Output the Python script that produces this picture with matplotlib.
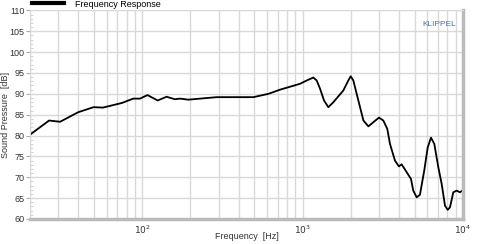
import matplotlib
matplotlib.use("Agg")
import matplotlib.pyplot as plt
from matplotlib.ticker import LogLocator, MultipleLocator, FixedLocator, NullFormatter
from matplotlib.lines import Line2D

plt.rcParams["font.family"] = ["Liberation Sans", "DejaVu Sans"]

# frequency response
freq = [20, 26.3, 30.8, 40, 49.8, 57, 74.7, 88, 97, 108, 125, 142, 160, 172, 194,
        292, 379, 494, 613, 725, 964, 1062, 1167, 1225, 1285, 1361, 1448, 1557,
        1796, 1929, 1996, 2073, 2228, 2396, 2573, 2764, 2997, 3188, 3375, 3508,
        3767, 3990, 4147, 4393, 4742, 4900, 5145, 5393, 5736, 6026, 6318, 6627,
        7020, 7368, 7727, 8030, 8300, 8706, 9140, 9580, 9915]
spl = [80.2, 83.6, 83.3, 85.6, 86.8, 86.7, 87.8, 88.85, 88.85, 89.7, 88.4, 89.3,
       88.7, 88.85, 88.6, 89.2, 89.2, 89.2, 90.0, 91.0, 92.4, 93.2, 93.9, 93.2,
       91.25, 88.4, 86.8, 88.0, 90.8, 93.2, 94.2, 93.2, 88.4, 83.6, 82.2, 83.2,
       84.3, 83.6, 81.6, 78.0, 74.0, 72.6, 73.1, 71.6, 69.6, 66.8, 65.2, 65.8,
       71.6, 77.1, 79.5, 78.0, 72.4, 68.4, 63.2, 62.2, 62.8, 66.4, 66.8, 66.4, 66.8]

y_ticks = [60, 65, 70, 75, 80, 85, 90, 95, 100, 105, 110]
x_ticks = [100, 1000, 10000]
x_labels = [r"$10^{2}$", r"$10^{3}$", r"$10^{4}$"]

fig = plt.figure(figsize=(4.8, 2.44), dpi=100)
ax = fig.add_axes([0.0625, 0.1025, 0.902, 0.855])

grid_c = "#d9d9d9"
ax.set_xscale("log")
ax.set_xlim(20, 10000)
ax.set_ylim(60, 110)
ax.xaxis.set_major_locator(FixedLocator(x_ticks))
ax.xaxis.set_minor_locator(LogLocator(base=10, subs=range(2, 10)))
ax.xaxis.set_minor_formatter(NullFormatter())
ax.set_xticklabels(x_labels)
ax.yaxis.set_major_locator(FixedLocator(y_ticks))
ax.yaxis.set_minor_locator(MultipleLocator(1))
ax.grid(True, which="major", color=grid_c, linewidth=1)
ax.grid(True, which="minor", axis="x", color=grid_c, linewidth=1)
ax.set_axisbelow(True)

ax.tick_params(axis="y", which="major", length=3, color="#aaaaaa", labelsize=6.5,
               labelcolor="#333333", pad=1)
ax.tick_params(axis="y", which="minor", direction="in", length=2, color="#cccccc")
ax.tick_params(axis="x", which="both", length=0, labelsize=6.5, labelcolor="#333333", pad=3)

for s in ["left", "top"]:
    ax.spines[s].set_color(grid_c)
for s in ["right", "bottom"]:
    ax.spines[s].set_color("#bbbbbb")
    ax.spines[s].set_linewidth(2.5)

ax.plot(freq, spl, color="black", linewidth=1.3, label="Frequency Response")

ax.set_xlabel("Frequency  [Hz]", fontsize=6.5, color="#333333")
ax.set_ylabel("Sound Pressure  [dB]", fontsize=6.5, color="#333333")
ax.xaxis.set_label_coords(0.5, -0.062)
ax.yaxis.set_label_coords(-0.047, 0.5)
ax.text(0.985, 0.95, "KLIPPEL", transform=ax.transAxes, ha="right", va="top",
        fontsize=6, color="#5a6bb5")

fig.legend(handles=[Line2D([], [], color="black", linewidth=3)], labels=["Frequency Response"],
           loc="upper left", bbox_to_anchor=(0.05, 1.035), frameon=False, fontsize=6.5,
           handlelength=3.5, handletextpad=1.2)

plt.savefig("out.png", dpi=100)
